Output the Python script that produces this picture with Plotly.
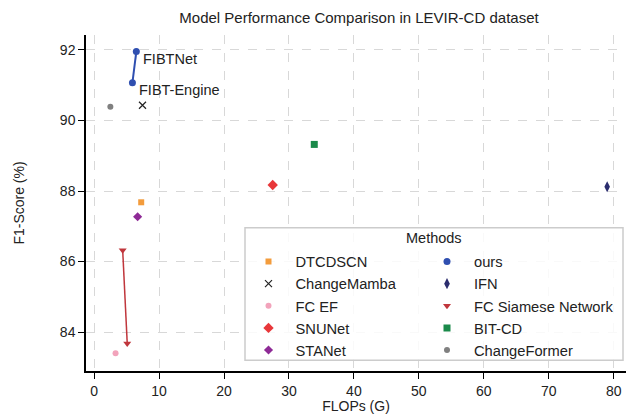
import plotly.graph_objects as go

# ---------------- Data ----------------
col1_methods = ["DTCDSCN", "ChangeMamba", "FC EF", "SNUNet", "STANet"]
col2_methods = ["ours", "IFN", "FC Siamese Network", "BIT-CD", "ChangeFormer"]
flops = {
    "DTCDSCN": [7.25],
    "ChangeMamba": [7.45],
    "FC EF": [3.3],
    "SNUNet": [27.5],
    "STANet": [6.7],
    "ours": [5.9, 6.5],
    "IFN": [79.0],
    "FC Siamese Network": [4.4, 5.1],
    "BIT-CD": [33.9],
    "ChangeFormer": [2.5],
}
f1 = {
    "DTCDSCN": [87.68],
    "ChangeMamba": [90.43],
    "FC EF": [83.4],
    "SNUNet": [88.17],
    "STANet": [87.27],
    "ours": [91.07, 91.95],
    "IFN": [88.12],
    "FC Siamese Network": [86.32, 83.68],
    "BIT-CD": [89.32],
    "ChangeFormer": [90.39],
}
ours_labels = ["FIBT-Engine", "FIBTNet"]
x_ticks = [0, 10, 20, 30, 40, 50, 60, 70, 80]
y_ticks = [84, 86, 88, 90, 92]

styles = {
    "DTCDSCN": dict(color="#f39c3c", symbol="square", size=6),
    "ChangeMamba": dict(color="#222222", symbol="x-thin-open", size=7),
    "FC EF": dict(color="#f2a3bb", symbol="circle", size=6),
    "SNUNet": dict(color="#e8373a", symbol="diamond", size=8),
    "STANet": dict(color="#8e2a96", symbol="diamond", size=7),
    "ours": dict(color="#2f4fb0", symbol="circle", size=7),
    "IFN": dict(color="#2b2d6e", symbol="diamond-tall", size=8),
    "FC Siamese Network": dict(color="#c0363c", symbol="triangle-down", size=7),
    "BIT-CD": dict(color="#1a8a4a", symbol="square", size=7),
    "ChangeFormer": dict(color="#808080", symbol="circle", size=6),
}
line_widths = {"ours": 2, "FC Siamese Network": 1.5}

# ---------------- Layout geometry ----------------
ML, MR, MT, MB = 86, 2, 35, 39
W, H = 628, 414
PW, PH = W - ML - MR, H - MT - MB


def px_x(p):
    return (p - ML) / PW


def px_y(p):
    return (H - MB - p) / PH


def marker_of(st):
    return dict(color=st["color"], symbol=st["symbol"], size=st["size"],
                line=dict(width=1.2 if "open" in st["symbol"] else 0, color=st["color"]))


fig = go.Figure()
for legend_id, group in (("legend", col1_methods), ("legend2", col2_methods)):
    for m in group:
        st = styles[m]
        if m in line_widths:
            fig.add_trace(go.Scatter(
                x=flops[m], y=f1[m], mode="lines+markers", name=m, showlegend=False,
                marker=marker_of(st), line=dict(color=st["color"], width=line_widths[m]),
            ))
            # legend entry showing only the marker
            fig.add_trace(go.Scatter(
                x=[None], y=[None], mode="markers", name=m, legend=legend_id,
                marker=marker_of(st),
            ))
        else:
            fig.add_trace(go.Scatter(
                x=flops[m], y=f1[m], mode="markers", name=m, legend=legend_id,
                marker=marker_of(st),
            ))

for xv, yv, lab in zip(flops["ours"], f1["ours"], ours_labels):
    fig.add_annotation(x=xv, y=yv, text=lab, showarrow=False, xanchor="left",
                       yanchor="middle", xshift=5, yshift=-7,
                       font=dict(size=14.5, color="#222222"))

# legend frame + title
fig.add_shape(type="rect", xref="paper", yref="paper",
              x0=px_x(245), x1=px_x(623), y0=px_y(364), y1=px_y(230),
              line=dict(color="#cccccc", width=1.5),
              fillcolor="rgba(255,255,255,0.85)", layer="above")
fig.add_annotation(xref="paper", yref="paper", x=px_x(434), y=px_y(240),
                   text="Methods", showarrow=False, xanchor="center", yanchor="middle",
                   font=dict(size=14.5, color="#222222"))

legend_common = dict(orientation="v", xanchor="left", yanchor="top",
                     bgcolor="rgba(0,0,0,0)", borderwidth=0, itemwidth=44,
                     font=dict(size=14.7, color="#222222"), tracegroupgap=0)

fig.update_layout(
    width=W, height=H,
    margin=dict(l=ML, r=MR, t=MT, b=MB),
    paper_bgcolor="white", plot_bgcolor="white",
    font=dict(family="Liberation Sans, Arial, sans-serif", size=14, color="#222222"),
    title=dict(text="Model Performance Comparison in LEVIR-CD dataset",
               x=359 / W, xanchor="center", y=1 - 18 / H, yanchor="middle",
               font=dict(size=15)),
    xaxis=dict(range=[-1.25, 81.9], tickvals=x_ticks, ticks="outside", ticklen=6,
               tickcolor="black", showline=True, linecolor="black", linewidth=1.5,
               showgrid=True, gridcolor="#d8d8d8", griddash="dash", gridwidth=1,
               zeroline=False, title=dict(text="FLOPs (G)", standoff=4, font=dict(size=14)),
               tickfont=dict(size=14)),
    yaxis=dict(range=[82.9, 92.42], tickvals=y_ticks, ticks="outside", ticklen=6,
               tickcolor="black", showline=True, linecolor="black", linewidth=1.5,
               showgrid=True, gridcolor="#d8d8d8", griddash="dash", gridwidth=1,
               zeroline=False, title=dict(text="F1-Score (%)", standoff=32, font=dict(size=14)),
               tickfont=dict(size=14)),
    legend=dict(x=px_x(241.5), y=px_y(248), **legend_common),
    legend2=dict(x=px_x(420), y=px_y(248), **legend_common),
)

fig.write_html("out.html")
